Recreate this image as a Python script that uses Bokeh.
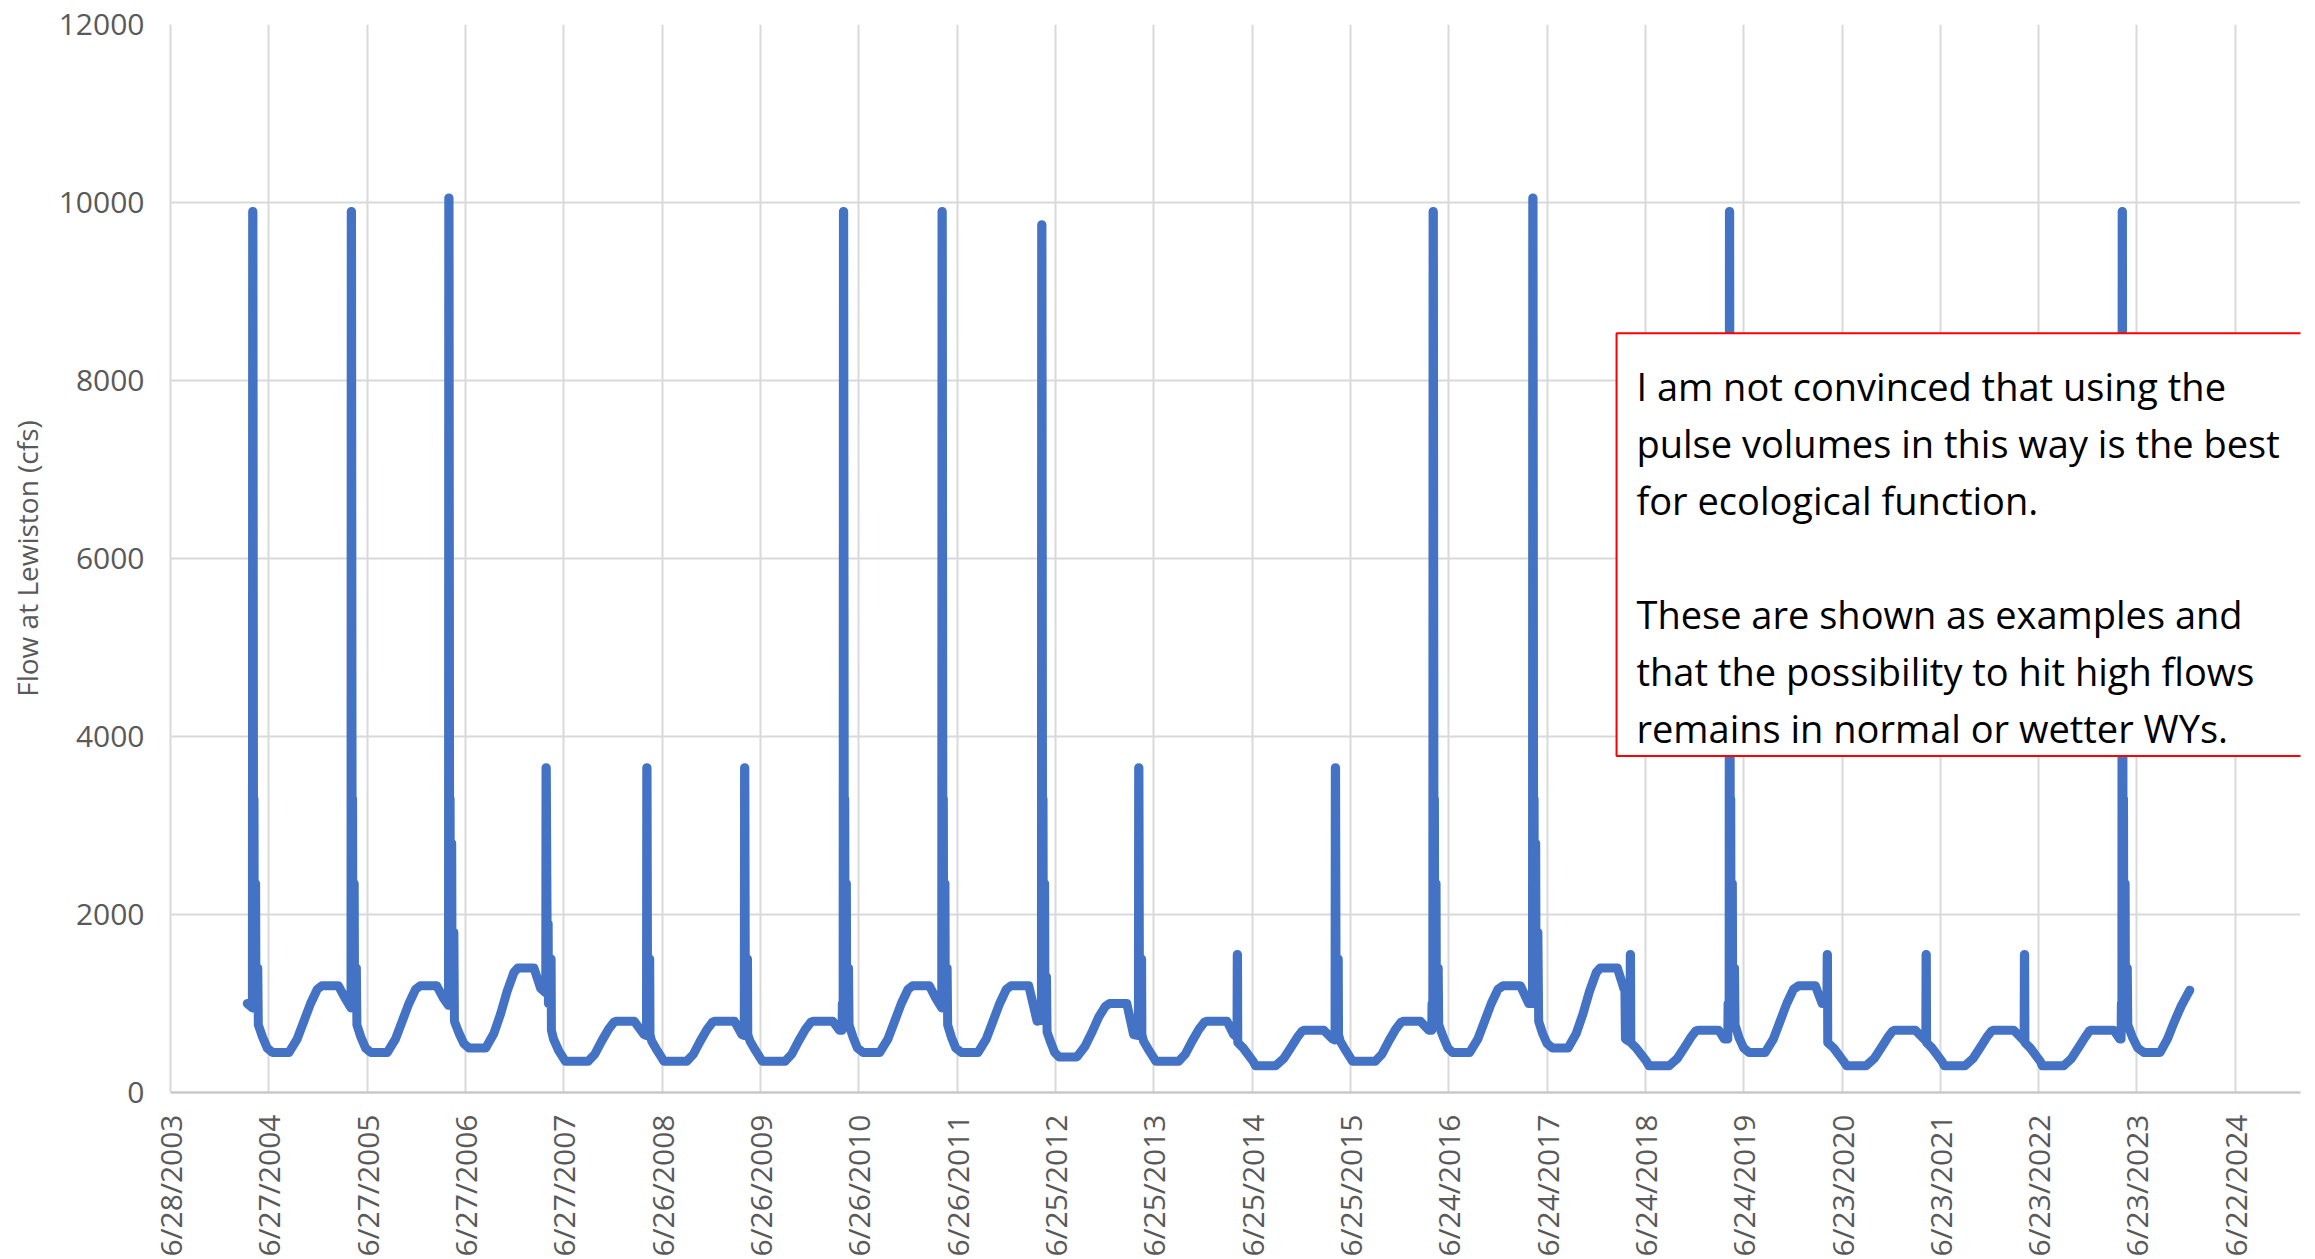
import math
import pandas as pd
from bokeh.plotting import figure
from bokeh.models import Range1d, FixedTicker, Label, BoxAnnotation, ColumnDataSource
from bokeh.embed import file_html
from bokeh.resources import INLINE

# Date axis ticks (365-day steps, as labelled on the axis)
date_tick_labels = [
    "6/28/2003", "6/27/2004", "6/27/2005", "6/27/2006", "6/27/2007", "6/26/2008",
    "6/26/2009", "6/26/2010", "6/26/2011", "6/25/2012", "6/25/2013", "6/25/2014",
    "6/25/2015", "6/24/2016", "6/24/2017", "6/24/2018", "6/24/2019", "6/23/2020",
    "6/23/2021", "6/23/2022", "6/23/2023", "6/22/2024",
]
flow_ticks = [0, 2000, 4000, 6000, 8000, 10000, 12000]
axis_start = "2003-06-28"
axis_end = "2025-02-19"

# Daily release record at Lewiston, listed by its turning points (cfs)
flow_dates = [
    "2004-04-08", "2004-04-27", "2004-04-28", "2004-04-29", "2004-05-01", "2004-05-03", "2004-05-04", "2004-05-06", "2004-05-07", "2004-05-09", "2004-05-10", "2004-05-15", "2004-05-16", "2004-05-17", "2004-05-19", "2004-06-04", "2004-06-21", "2004-07-10", "2004-09-10", "2004-10-10", "2004-11-04", "2004-11-29", "2004-12-24", "2005-01-10", "2005-03-12", "2005-04-06", "2005-04-28",
    "2005-04-29", "2005-04-30", "2005-05-02", "2005-05-04", "2005-05-05", "2005-05-07", "2005-05-08", "2005-05-10", "2005-05-11", "2005-05-16", "2005-05-17", "2005-05-18", "2005-05-20", "2005-06-04", "2005-06-21", "2005-07-10", "2005-09-10", "2005-10-10", "2005-11-04", "2005-11-29", "2005-12-24", "2006-01-10", "2006-03-12", "2006-04-06", "2006-04-25",
    "2006-04-26", "2006-04-27", "2006-04-29", "2006-05-01", "2006-05-02", "2006-05-04", "2006-05-05", "2006-05-07", "2006-05-08", "2006-05-13", "2006-05-14", "2006-05-15", "2006-05-17", "2006-06-04", "2006-06-21", "2006-07-10", "2006-09-10", "2006-10-10", "2006-11-04", "2006-11-29", "2006-12-24", "2007-01-08", "2007-03-08", "2007-04-02", "2007-04-21",
    "2007-04-22", "2007-04-23", "2007-04-26", "2007-04-30", "2007-05-01", "2007-05-07", "2007-05-08", "2007-05-11", "2007-05-12", "2007-05-20", "2007-06-08", "2007-07-03", "2007-09-25", "2007-10-20", "2007-11-15", "2007-12-10", "2007-12-30", "2008-01-08", "2008-03-15", "2008-04-20", "2008-04-29",
    "2008-04-30", "2008-05-01", "2008-05-03", "2008-05-08", "2008-05-09", "2008-05-11", "2008-05-12", "2008-05-18", "2008-06-08", "2008-07-03", "2008-09-25", "2008-10-20", "2008-11-15", "2008-12-10", "2008-12-30", "2009-01-08", "2009-03-22", "2009-04-18", "2009-04-27",
    "2009-04-28", "2009-04-29", "2009-05-01", "2009-05-06", "2009-05-07", "2009-05-09", "2009-05-10", "2009-05-18", "2009-06-08", "2009-07-03", "2009-09-25", "2009-10-20", "2009-11-15", "2009-12-10", "2009-12-30", "2010-01-08", "2010-03-22", "2010-04-15", "2010-04-25", "2010-04-26", "2010-04-29",
    "2010-04-30", "2010-05-01", "2010-05-03", "2010-05-05", "2010-05-06", "2010-05-08", "2010-05-09", "2010-05-11", "2010-05-12", "2010-05-17", "2010-05-18", "2010-05-19", "2010-05-21", "2010-06-05", "2010-06-21", "2010-07-12", "2010-09-12", "2010-10-12", "2010-11-06", "2010-12-01", "2010-12-26", "2011-01-12", "2011-03-15", "2011-04-08", "2011-04-30",
    "2011-05-01", "2011-05-02", "2011-05-04", "2011-05-06", "2011-05-07", "2011-05-09", "2011-05-10", "2011-05-12", "2011-05-13", "2011-05-18", "2011-05-19", "2011-05-20", "2011-05-22", "2011-06-05", "2011-06-21", "2011-07-12", "2011-09-12", "2011-10-12", "2011-11-06", "2011-12-01", "2011-12-26", "2012-01-12", "2012-03-18", "2012-04-18", "2012-05-04",
    "2012-05-05", "2012-05-06", "2012-05-08", "2012-05-10", "2012-05-11", "2012-05-13", "2012-05-14", "2012-05-16", "2012-05-17", "2012-05-21", "2012-05-22", "2012-05-23", "2012-05-25", "2012-06-08", "2012-06-22", "2012-07-08", "2012-09-13", "2012-10-13", "2012-11-08", "2012-12-03", "2012-12-28", "2013-01-12", "2013-03-17", "2013-04-11", "2013-04-29",
    "2013-04-30", "2013-05-01", "2013-05-03", "2013-05-08", "2013-05-09", "2013-05-11", "2013-05-12", "2013-05-18", "2013-06-08", "2013-07-03", "2013-09-25", "2013-10-20", "2013-11-15", "2013-12-10", "2013-12-30", "2014-01-08", "2014-03-24", "2014-04-18", "2014-04-30",
    "2014-05-01", "2014-05-02", "2014-05-03", "2014-05-23", "2014-06-29", "2014-07-08", "2014-09-20", "2014-10-20", "2014-11-15", "2014-12-10", "2014-12-28", "2015-01-05", "2015-03-18", "2015-04-20", "2015-04-29",
    "2015-04-30", "2015-05-01", "2015-05-03", "2015-05-08", "2015-05-09", "2015-05-11", "2015-05-12", "2015-05-18", "2015-06-08", "2015-07-03", "2015-09-25", "2015-10-20", "2015-11-15", "2015-12-10", "2015-12-30", "2016-01-08", "2016-03-11", "2016-04-11", "2016-04-22", "2016-04-23", "2016-04-26",
    "2016-04-27", "2016-04-28", "2016-04-30", "2016-05-02", "2016-05-03", "2016-05-05", "2016-05-06", "2016-05-08", "2016-05-09", "2016-05-14", "2016-05-15", "2016-05-16", "2016-05-18", "2016-06-04", "2016-06-21", "2016-07-08", "2016-09-10", "2016-10-10", "2016-11-04", "2016-11-29", "2016-12-24", "2017-01-12", "2017-03-17", "2017-04-17", "2017-05-01",
    "2017-05-02", "2017-05-03", "2017-05-05", "2017-05-07", "2017-05-08", "2017-05-10", "2017-05-11", "2017-05-13", "2017-05-14", "2017-05-19", "2017-05-20", "2017-05-21", "2017-05-24", "2017-06-08", "2017-06-24", "2017-07-14", "2017-09-10", "2017-10-10", "2017-11-04", "2017-11-29", "2017-12-24", "2018-01-08", "2018-03-12", "2018-04-05", "2018-04-09", "2018-04-11", "2018-04-28",
    "2018-04-29", "2018-04-30", "2018-05-01", "2018-05-21", "2018-06-28", "2018-07-08", "2018-09-20", "2018-10-20", "2018-11-15", "2018-12-10", "2018-12-28", "2019-01-06", "2019-03-23", "2019-04-13", "2019-04-26", "2019-04-27", "2019-05-01",
    "2019-05-02", "2019-05-03", "2019-05-05", "2019-05-07", "2019-05-08", "2019-05-10", "2019-05-11", "2019-05-13", "2019-05-14", "2019-05-19", "2019-05-20", "2019-05-21", "2019-05-23", "2019-06-06", "2019-06-24", "2019-07-14", "2019-09-12", "2019-10-12", "2019-11-06", "2019-12-01", "2019-12-26", "2020-01-14", "2020-03-16", "2020-04-10", "2020-04-28",
    "2020-04-29", "2020-04-30", "2020-05-01", "2020-05-23", "2020-06-29", "2020-07-10", "2020-09-20", "2020-10-20", "2020-11-15", "2020-12-10", "2020-12-28", "2021-01-05", "2021-03-22", "2021-04-30",
    "2021-05-01", "2021-05-02", "2021-05-03", "2021-05-23", "2021-06-29", "2021-07-08", "2021-09-22", "2021-10-22", "2021-11-17", "2021-12-12", "2021-12-30", "2022-01-07", "2022-03-22", "2022-04-30",
    "2022-05-01", "2022-05-02", "2022-05-03", "2022-05-23", "2022-06-29", "2022-07-06", "2022-09-24", "2022-10-22", "2022-11-17", "2022-12-12", "2022-12-28", "2023-01-02", "2023-03-29", "2023-04-20", "2023-04-25", "2023-04-26", "2023-04-28",
    "2023-04-29", "2023-04-30", "2023-05-02", "2023-05-04", "2023-05-05", "2023-05-07", "2023-05-08", "2023-05-10", "2023-05-11", "2023-05-16", "2023-05-17", "2023-05-18", "2023-05-20", "2023-06-06", "2023-06-26", "2023-07-18", "2023-09-17", "2023-10-14", "2023-11-08", "2023-12-04", "2024-01-05",
]
flow_cfs = [
    1000, 950, 9900, 9900, 3300, 3300, 1500, 1500, 2350, 2350, 1200, 1100, 1400, 1400, 760, 620, 500, 450, 450, 600, 800, 1000, 1160, 1200, 1200, 1060, 950,
    9900, 9900, 3300, 3300, 1500, 1500, 2350, 2350, 1200, 1100, 1400, 1400, 760, 620, 500, 450, 450, 600, 800, 1000, 1160, 1200, 1200, 1060, 980,
    10050, 10050, 3300, 3300, 1500, 1500, 2800, 2800, 1300, 1200, 1800, 1800, 800, 660, 550, 500, 500, 660, 880, 1140, 1350, 1400, 1400, 1170, 1120,
    3650, 3650, 1900, 1900, 1000, 1000, 1500, 1500, 700, 600, 470, 350, 350, 430, 580, 710, 790, 800, 800, 650, 640,
    3650, 3650, 1000, 1000, 1500, 1500, 650, 580, 470, 350, 350, 430, 580, 710, 790, 800, 800, 650, 640,
    3650, 3650, 1000, 1000, 1500, 1500, 650, 580, 470, 350, 350, 430, 580, 710, 790, 800, 800, 700, 700, 1000, 1000,
    9900, 9900, 3300, 3300, 1500, 1500, 2350, 2350, 1200, 1100, 1400, 1400, 760, 620, 500, 450, 450, 600, 800, 1000, 1160, 1200, 1200, 1060, 950,
    9900, 9900, 3300, 3300, 1500, 1500, 2350, 2350, 1200, 1100, 1400, 1400, 760, 620, 500, 450, 450, 600, 800, 1000, 1160, 1200, 1200, 800, 820,
    9750, 9750, 3300, 3300, 1500, 1500, 2350, 2350, 1000, 900, 1300, 1300, 680, 560, 450, 400, 400, 520, 680, 850, 970, 1000, 1000, 650, 640,
    3650, 3650, 1000, 1000, 1500, 1500, 650, 580, 470, 350, 350, 430, 580, 710, 790, 800, 800, 650, 620,
    1550, 1550, 560, 500, 350, 300, 300, 380, 500, 620, 690, 700, 700, 600, 590,
    3650, 3650, 1000, 1000, 1500, 1500, 650, 580, 470, 350, 350, 430, 580, 710, 790, 800, 800, 700, 700, 1000, 1000,
    9900, 9900, 3300, 3300, 1500, 1500, 2350, 2350, 1200, 1100, 1400, 1400, 760, 620, 500, 450, 450, 600, 800, 1000, 1160, 1200, 1200, 1000, 1000,
    10050, 10050, 3300, 3300, 1500, 1500, 2800, 2800, 1300, 1200, 1800, 1800, 800, 660, 550, 500, 500, 660, 880, 1140, 1350, 1400, 1400, 1170, 1150, 600, 570,
    1550, 1550, 560, 500, 350, 300, 300, 380, 500, 620, 690, 700, 700, 600, 600, 1000, 1000,
    9900, 9900, 3300, 3300, 1500, 1500, 2350, 2350, 1200, 1100, 1400, 1400, 760, 620, 500, 450, 450, 600, 800, 1000, 1160, 1200, 1200, 1000, 1000,
    1550, 1550, 560, 500, 350, 300, 300, 380, 500, 620, 690, 700, 700, 580,
    1550, 1550, 560, 500, 350, 300, 300, 380, 500, 620, 690, 700, 700, 580,
    1550, 1550, 560, 500, 350, 300, 300, 380, 500, 620, 690, 700, 700, 600, 600, 1000, 1000,
    9900, 9900, 3300, 3300, 1500, 1500, 2350, 2350, 1200, 1100, 1400, 1400, 760, 620, 500, 450, 450, 600, 790, 970, 1150,
]

note_lines = [
    "I am not convinced that using the",
    "pulse volumes in this way is the best",
    "for ecological function.",
    "",
    "These are shown as examples and",
    "that the possibility to hit high flows",
    "remains in normal or wetter WYs.",
]

origin = pd.Timestamp(axis_start)


def day_number(stamp):
    return (stamp - origin).days


x_days = [day_number(pd.Timestamp(d)) for d in flow_dates]
tick_days = [day_number(pd.to_datetime(t, format="%m/%d/%Y")) for t in date_tick_labels]
x_max = day_number(pd.Timestamp(axis_end))

source = ColumnDataSource(data=dict(day=x_days, flow=flow_cfs))

GREY_TEXT = "#595959"
GRID = "#D9D9D9"
FONT = "Open Sans"

p = figure(
    width=2315, height=1259,
    output_backend="svg", toolbar_location=None,
    x_range=Range1d(0, x_max), y_range=Range1d(0, 12000),
    min_border_left=170, min_border_right=15, min_border_top=24, min_border_bottom=40,
)
p.background_fill_color = "white"
p.border_fill_color = "white"
p.outline_line_color = None

p.line(x="day", y="flow", source=source, line_color="#4472C4", line_width=9,
       line_join="round", line_cap="round")

# x axis: fixed yearly ticks with m/d/yyyy labels, vertical text
p.xaxis.ticker = FixedTicker(ticks=tick_days)
p.xaxis.major_label_overrides = {d: lab for d, lab in zip(tick_days, date_tick_labels)}
p.xaxis.major_label_orientation = math.pi / 2
p.xaxis.major_label_standoff = 22
p.xaxis.axis_line_color = "#C8C8C8"
p.xaxis.axis_line_width = 2.5

# y axis
p.yaxis.ticker = FixedTicker(ticks=flow_ticks)
p.yaxis.major_label_standoff = 26
p.yaxis.axis_label = "Flow at Lewiston (cfs)"
p.yaxis.axis_label_standoff = 10
p.yaxis.axis_label_text_font = FONT
p.yaxis.axis_label_text_font_size = "28px"
p.yaxis.axis_label_text_font_style = "normal"
p.yaxis.axis_label_text_color = GREY_TEXT
p.yaxis.axis_line_color = GRID
p.yaxis.axis_line_width = 2

for ax in (p.xaxis, p.yaxis):
    ax.major_tick_in = 0
    ax.major_tick_out = 0
    ax.minor_tick_in = 0
    ax.minor_tick_out = 0
    ax.major_label_text_font = FONT
    ax.major_label_text_font_size = "30px"
    ax.major_label_text_color = GREY_TEXT

p.xgrid.grid_line_color = GRID
p.xgrid.grid_line_width = 2
p.ygrid.grid_line_color = GRID
p.ygrid.grid_line_width = 2

# Comment box over the right part of the plot
box = BoxAnnotation(left=5368, right=8400, top=8530, bottom=3780,
                    fill_color="white", fill_alpha=1.0,
                    line_color="#FF0000", line_width=2, line_alpha=1.0)
p.add_layout(box)

note_x = 5442
note_top = 7937
note_step = 641
for i, line in enumerate(note_lines):
    if not line:
        continue
    p.add_layout(Label(x=note_x, y=note_top - i * note_step, text=line,
                       text_font=FONT, text_font_size="38px", text_color="black",
                       text_align="left", text_baseline="alphabetic"))

open("out.html", "w").write(file_html(p, INLINE))
